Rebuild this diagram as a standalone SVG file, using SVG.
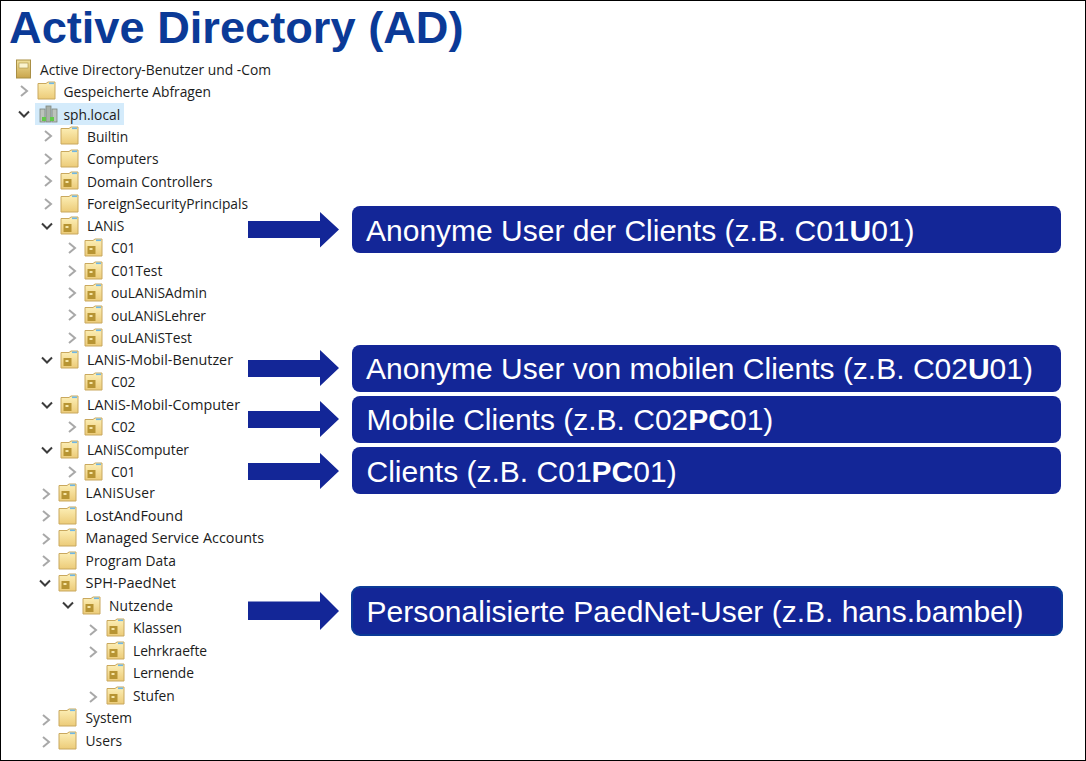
<svg xmlns="http://www.w3.org/2000/svg" width="1086" height="761" viewBox="0 0 1086 761">
<style>
.t{font-family:"Open Sans","Noto Sans",sans-serif;font-size:13.8px;fill:#1c1c1c}
.b{font-family:"Liberation Sans",Arial,sans-serif;font-size:30px;fill:#fff}
.b tspan{font-weight:bold}
.box{fill:#132697}
.arr{fill:#132697}
.ch{fill:none;stroke:#a8a8a8;stroke-width:2}
.cd{fill:none;stroke:#3c3c3c;stroke-width:2}
</style>
<defs>
<linearGradient id="fg" x1="0" y1="0" x2="0" y2="1"><stop offset="0" stop-color="#fdf0b8"/><stop offset="1" stop-color="#eccb78"/></linearGradient>
<linearGradient id="rg" x1="0" y1="0" x2="0" y2="1"><stop offset="0" stop-color="#f0e09a"/><stop offset="1" stop-color="#c9a54c"/></linearGradient>
<g id="f"><path d="M0 -7.500H8L10 -9H17V8H0Z" fill="url(#fg)" stroke="#c9a85e"/><rect x="11" y="-8.500" width="5" height="1.600" fill="#6fb7e6"/></g>
<g id="o"><use href="#f"/><rect x="2.500" y="-2" width="8" height="8" fill="#b79433"/><rect x="4.500" y="0" width="3" height="2" fill="#f6e6a8"/></g>
<path id="r" class="ch" d="M-3 -5L3 0L-3 5"/>
<path id="d" class="cd" d="M-5 -2.500L0 2.500L5 -2.500"/>
</defs>
<rect width="1086" height="761" fill="#fff"/>
<rect x="0.500" y="0.500" width="1085" height="760" fill="none" stroke="#000"/>
<text id="title" x="9" y="42.500" font-family="Liberation Sans,Arial,sans-serif" font-weight="bold" font-size="45.200px" fill="#0b3a97">Active Directory (AD)</text>
<g id="tree">
<g id="n0"><rect x="16.500" y="60" width="14" height="18" fill="url(#rg)" stroke="#a98f45"/><rect x="19" y="63" width="9" height="5" fill="#fbf4cf" stroke="#a99148" stroke-width=".6"/><text class="t" x="40" y="75" textLength="231" lengthAdjust="spacingAndGlyphs">Active Directory-Benutzer und -Com</text></g>
<g id="n1"><use href="#r" x="24" y="91"/><use href="#f" x="38" y="91"/><text class="t" x="63.500" y="97">Gespeicherte Abfragen</text></g>
<g id="n2"><rect x="35" y="103" width="89" height="22" fill="#d4ebfb"/><use href="#d" x="24" y="114"/><rect x="40" y="109" width="5" height="13" fill="#bcc3bc" stroke="#7d857d" stroke-width=".8"/><rect x="46" y="106" width="5" height="16" fill="#a9b1a9" stroke="#7d857d" stroke-width=".8"/><rect x="52" y="109" width="5" height="13" fill="#bcc3bc" stroke="#7d857d" stroke-width=".8"/><rect x="42" y="117" width="4" height="4" fill="#62c94a"/><rect x="50" y="117" width="4" height="4" fill="#62c94a"/><text class="t" x="63.500" y="120">sph.local</text></g>
<g id="n3"><use href="#r" x="48" y="136"/><use href="#f" x="61" y="136"/><text class="t" x="87" y="142">Builtin</text></g>
<g id="n4"><use href="#r" x="48" y="159"/><use href="#f" x="61" y="159"/><text class="t" x="87" y="164">Computers</text></g>
<g id="n5"><use href="#r" x="48" y="181"/><use href="#o" x="61" y="181"/><text class="t" x="87" y="187">Domain Controllers</text></g>
<g id="n6"><use href="#r" x="48" y="204"/><use href="#f" x="61" y="204"/><text class="t" x="87" y="209" textLength="161">ForeignSecurityPrincipals</text></g>
<g id="n7"><use href="#d" x="47" y="226"/><use href="#o" x="61" y="226"/><text class="t" x="87" y="231">LANiS</text></g>
<g id="n8"><use href="#r" x="72" y="248"/><use href="#o" x="85" y="248"/><text class="t" x="111" y="253">C01</text></g>
<g id="n9"><use href="#r" x="72" y="271"/><use href="#o" x="85" y="271"/><text class="t" x="111" y="276">C01Test</text></g>
<g id="n10"><use href="#r" x="72" y="293"/><use href="#o" x="85" y="293"/><text class="t" x="111" y="298">ouLANiSAdmin</text></g>
<g id="n11"><use href="#r" x="72" y="315"/><use href="#o" x="85" y="315"/><text class="t" x="111" y="321" textLength="95">ouLANiSLehrer</text></g>
<g id="n12"><use href="#r" x="72" y="338"/><use href="#o" x="85" y="338"/><text class="t" x="111" y="343">ouLANiSTest</text></g>
<g id="n13"><use href="#d" x="47" y="360"/><use href="#o" x="61" y="360"/><text class="t" x="87" y="365" textLength="146" lengthAdjust="spacingAndGlyphs">LANiS-Mobil-Benutzer</text></g>
<g id="n14"><use href="#o" x="85" y="382"/><text class="t" x="111" y="387">C02</text></g>
<g id="n15"><use href="#d" x="47" y="405"/><use href="#o" x="61" y="405"/><text class="t" x="87" y="410" textLength="153" lengthAdjust="spacingAndGlyphs">LANiS-Mobil-Computer</text></g>
<g id="n16"><use href="#r" x="72" y="427"/><use href="#o" x="85" y="427"/><text class="t" x="111" y="432">C02</text></g>
<g id="n17"><use href="#d" x="47" y="450"/><use href="#o" x="61" y="450"/><text class="t" x="87" y="455" textLength="102">LANiSComputer</text></g>
<g id="n18"><use href="#r" x="72" y="472"/><use href="#o" x="85" y="472"/><text class="t" x="111" y="477">C01</text></g>
<g id="n19"><use href="#r" x="46" y="494"/><use href="#o" x="59" y="493"/><text class="t" x="85.500" y="498" textLength="69.500">LANiSUser</text></g>
<g id="n20"><use href="#r" x="46" y="516"/><use href="#f" x="59" y="516"/><text class="t" x="85.500" y="521" textLength="97.500" lengthAdjust="spacingAndGlyphs">LostAndFound</text></g>
<g id="n21"><use href="#r" x="46" y="539"/><use href="#f" x="59" y="538"/><text class="t" x="85.500" y="543" textLength="178.500" lengthAdjust="spacingAndGlyphs">Managed Service Accounts</text></g>
<g id="n22"><use href="#r" x="46" y="561"/><use href="#f" x="59" y="561"/><text class="t" x="85.500" y="566" textLength="90.500">Program Data</text></g>
<g id="n23"><use href="#d" x="45" y="583"/><use href="#o" x="59" y="583"/><text class="t" x="85.500" y="588" textLength="90.500" lengthAdjust="spacingAndGlyphs">SPH-PaedNet</text></g>
<g id="n24"><use href="#d" x="68" y="605"/><use href="#o" x="83" y="606"/><text class="t" x="109" y="611" textLength="64">Nutzende</text></g>
<g id="n25"><use href="#r" x="93" y="630"/><use href="#o" x="107" y="628"/><text class="t" x="133" y="633">Klassen</text></g>
<g id="n26"><use href="#r" x="93" y="652"/><use href="#o" x="107" y="651"/><text class="t" x="133" y="656" textLength="74">Lehrkraefte</text></g>
<g id="n27"><use href="#o" x="107" y="673"/><text class="t" x="133" y="678" textLength="61">Lernende</text></g>
<g id="n28"><use href="#r" x="93" y="697"/><use href="#o" x="107" y="696"/><text class="t" x="133" y="701">Stufen</text></g>
<g id="n29"><use href="#r" x="46" y="720"/><use href="#f" x="59" y="718"/><text class="t" x="85.500" y="723">System</text></g>
<g id="n30"><use href="#r" x="46" y="742"/><use href="#f" x="59" y="741"/><text class="t" x="85.500" y="746">Users</text></g>
</g>
<g id="connectors">
<path class="arr" d="M248 221H320V212L339 229.500L320 247.500V238H248Z"/>
<path class="arr" d="M248 360H320V350L339 368L320 386V377H248Z"/>
<path class="arr" d="M248 411H320V401L339 419L320 437V428H248Z"/>
<path class="arr" d="M248 463H320V453L339 471L320 489V480H248Z"/>
<path class="arr" d="M248 601.500H320V592L339 611L320 630V620H248Z"/>
</g>
<g id="b1"><rect class="box" x="352" y="206" width="709" height="47" rx="8"/><text class="b" x="366" y="241">Anonyme User der Clients (z.B. C01<tspan>U</tspan>01)</text></g>
<g id="b2"><rect class="box" x="352" y="345" width="709" height="47" rx="8"/><text class="b" x="366" y="379">Anonyme User von mobilen Clients (z.B. C02<tspan>U</tspan>01)</text></g>
<g id="b3"><rect class="box" x="352" y="396" width="709" height="47" rx="8"/><text class="b" x="366.500" y="430">Mobile Clients (z.B. C02<tspan>PC</tspan>01)</text></g>
<g id="b4"><rect class="box" x="352" y="447" width="709" height="47" rx="8"/><text class="b" x="366.500" y="482">Clients (z.B. C01<tspan>PC</tspan>01)</text></g>
<g id="b5"><rect class="box" x="352" y="587" width="710" height="48" rx="8" stroke="#0b3a97" stroke-width="2"/><text class="b" x="366.500" y="622">Personalisierte PaedNet-User (z.B. hans.bambel)</text></g>
</svg>
